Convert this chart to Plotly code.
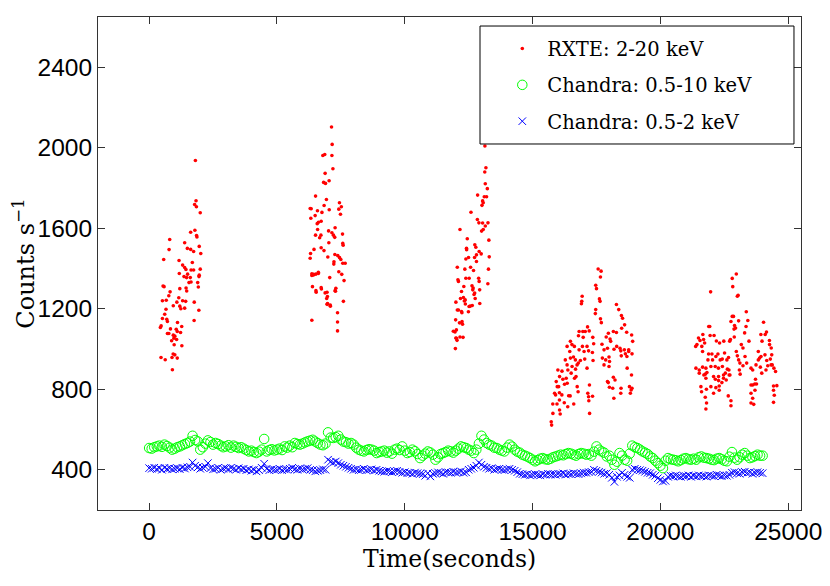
import plotly.graph_objects as go

# ---------------- DATA ----------------
# RXTE 2-20 keV light curve (time in s, counts/s), five observing windows
rxte_seg1_t = [1810,1835,1780,1850,2000,1625,1790,1855,1870,805,780,1390,1495,1625,1740,1960,2020,570,1170,1310,
               1690,1390,1440,1640,1740,2000,1180,1505,1960,1365,1465,1610,1950,1560,1900,545,585,1200,1445,1640,
               1925,1470,820,770,1160,1310,520,670,1430,1085,1765,945,1200,1240,1390,1945,660,610,520,690,
               715,1760,1110,470,440,1275,835,1060,1100,1230,715,770,945,1005,970,1075,880,980,1280,940,
               1005,895,465,630,1100,910]
rxte_seg1_c = [1937,1737,1718,1707,1677,1580,1590,1564,1557,1544,1494,1528,1500,1495,1485,1510,1475,1445,1440,1417,
               1430,1405,1395,1393,1393,1397,1375,1372,1367,1360,1355,1355,1360,1330,1330,1313,1310,1300,1303,1333,
               1308,1288,1284,1265,1255,1240,1240,1242,1237,1233,1233,1215,1213,1200,1203,1193,1198,1173,1152,1148,
               1137,1142,1132,1115,1107,1112,1100,1098,1087,1082,1077,1077,1069,1064,1054,1047,1041,1021,1016,975,
               971,958,958,947,955,897]

rxte_seg2_t = [7135,7160,6795,6870,7150,7190,6885,7040,6825,6900,6510,6935,7445,7520,6300,6845,7420,6585,7045,7485,
               6760,6325,6495,6625,6730,6575,7275,7020,6590,7150,6510,6720,7210,7565,6670,7260,7575,7030,6730,7590,
               6450,6840,6315,7265,7380,6990,6300,7450,7500,7230,7670,7575,7225,7420,6365,6430,6620,7535,7065,7625,
               6390,6730,7305,6525,7275,6885,6975,6365,6535,6980,7085,7370,7370,7370,7600,6340,6365,6430,6520,6620,
               6740,6960,6945,6960,7090,7290]
rxte_seg2_c = [2103,2017,1962,1967,1962,1896,1873,1836,1828,1823,1760,1743,1727,1707,1698,1713,1695,1687,1692,1670,
               1679,1650,1663,1630,1635,1623,1603,1587,1594,1578,1566,1566,1566,1571,1553,1555,1525,1528,1503,1516,
               1495,1489,1475,1470,1464,1457,1451,1454,1445,1434,1426,1426,1422,1384,1374,1371,1381,1371,1355,1340,
               1310,1305,1302,1290,1290,1279,1261,1143,1282,1226,1218,1180,1134,1090,1237,1697,1365,1368,1372,1375,
               1298,1282,1251,1222,1213,1287]

rxte_seg3_t = [13135,13175,13130,13150,13230,13110,13200,12850,13045,13020,13070,12590,12840,12900,13045,13150,13255,13070,13005,12160,
               12445,13290,12740,12415,12780,12420,12910,12805,12990,12730,12390,12495,13305,12805,12055,12575,12350,13275,12690,12080,
               12100,12390,12520,12890,12910,13250,12310,12630,12675,12660,12220,12930,12735,12710,12295,12180,12755,12365,12330,12000,
               12370,12935,12515,12560,12640,12055,12100,12220,12235,12490,11990,12240,12260,12020,11965,12280,12020,12045,11980,11900,
               12140,12000,12160]
rxte_seg3_c = [2009,1901,1880,1821,1797,1757,1757,1765,1736,1714,1727,1680,1644,1627,1626,1611,1627,1594,1586,1594,
               1548,1541,1518,1501,1506,1493,1485,1468,1473,1455,1447,1455,1458,1435,1406,1406,1397,1397,1390,1344,
               1336,1352,1352,1352,1336,1324,1311,1314,1303,1294,1286,1294,1278,1271,1256,1251,1251,1244,1239,1233,
               1224,1226,1211,1213,1216,1194,1194,1186,1180,1185,1145,1136,1123,1095,1085,1058,1053,1043,1002,1088,
               1130,1055,1060]

rxte_seg4_t = [17565,17680,17655,17470,17500,16940,16925,16910,17615,17640,17470,17455,18280,18370,18475,18520,17655,17690,17150,17215,
               17060,16965,16820,16795,16980,17355,17965,18160,18280,18485,18680,18875,16480,16540,16350,16635,16950,17130,17390,17715,
               18055,18030,18185,18290,18420,18450,18590,18760,18915,16455,16820,17015,17190,17340,17795,17930,18470,18630,18690,18760,
               18890,17730,17860,17990,18010,16280,16480,16675,16870,17040,17365,16350,16545,16740,16790,17130,17795,17990,18700,18870,
               15990,16380,16510,16680,16055,16185,16315,16640,16700,18160,17930,17960,18225,15925,15965,16020,16250,16355,16745,17225,
               18005,18135,18460,18790,18855,18890,18450,18825,15860,15900,16050,16145,16410,16470,17160,16050,15790,15955,16240,16375,
               16610,16780,17190,17200,18180,16055,15795,16080,17230,15730,15745,17345,16600,16150,17880,18600]
rxte_seg4_c = [1398,1387,1358,1317,1300,1262,1237,1225,1249,1237,1196,1176,1221,1196,1166,1153,1150,1131,1110,1090,
               1087,1087,1087,1066,1058,1058,1078,1087,1082,1103,1083,1070,1038,1022,1013,1013,1013,1013,1026,1024,
               1038,1050,999,1013,1004,991,996,996,1038,988,996,988,991,983,996,1004,966,976,963,988,
               976,955,946,960,938,946,955,946,943,950,943,921,913,921,930,905,921,913,905,871,
               896,896,880,900,863,850,855,855,863,860,838,833,846,838,813,813,825,830,813,821,
               810,805,805,813,796,805,780,780,780,772,783,772,768,767,780,747,727,727,733,713,
               727,788,763,743,755,697,680,677,680,638,622,765,960,890,1060,1120]

rxte_seg5_t = [22970,22810,22830,21965,23040,23010,22810,22860,23360,22760,23060,23420,24035,21890,21930,22900,23350,22940,22880,21660,
               22100,21945,21490,21550,21690,22190,22480,22710,22890,23295,23930,24100,24150,24265,21430,21380,21620,21730,22315,22740,
               23165,23230,23465,23975,24270,24335,21650,21885,22015,22250,22510,22600,22970,23010,23310,23830,23935,24090,24355,24300,
               21860,22040,22170,22340,22420,22665,23060,23110,23375,23830,23880,24160,24200,24375,21390,21520,21650,21780,21975,22145,
               22270,22425,22620,22680,23090,23230,23545,23740,23910,24330,24440,24505,21520,21700,21755,21820,22080,22275,22470,22540,
               22690,23120,23610,23965,24130,21780,22275,22470,22150,22405,22575,22720,23610,23690,23760,23545,23720,21585,21975,22170,
               22300,24425,24555,21610,21800,22300,22655,23700,24425,22080,23545,23610,24455,21755,22760,21805,23545,23650,24425,22760,
               21780]
rxte_seg5_c = [1373,1351,1310,1284,1267,1262,1162,1162,1185,1137,1140,1142,1133,1112,1112,1117,1112,1104,1099,1072,
               1067,1067,1055,1042,1047,1040,1039,1039,1060,1080,1072,1072,1084,1042,1022,1013,1013,1030,1030,1047,
               1022,1005,1039,1039,1022,1005,988,975,975,975,980,946,988,966,963,988,963,971,971,950,
               946,946,963,946,950,958,946,930,930,946,955,943,917,921,905,896,910,905,913,913,
               905,913,900,896,896,917,905,921,910,921,905,888,880,871,875,883,863,863,871,880,
               871,875,896,880,896,855,843,855,850,833,846,871,821,826,826,821,850,813,813,808,
               816,816,818,788,800,795,767,795,795,780,780,755,770,760,743,732,732,725,735,718,
               702]

rxte_time = rxte_seg1_t + rxte_seg2_t + rxte_seg3_t + rxte_seg4_t + rxte_seg5_t
rxte_counts = rxte_seg1_c + rxte_seg2_c + rxte_seg3_c + rxte_seg4_c + rxte_seg5_c

# Chandra light curves, 100 s bins from 0 to 24000 s
chandra_time = list(range(0, 24001, 100))
chandra_broad = [
    508, 505, 512, 516, 520, 514, 525, 518, 510, 500,
    505, 512, 516, 522, 528, 533, 540, 569, 548, 541,
    500, 512, 530, 546, 538, 525, 533, 528, 520, 512,
    516, 522, 510, 520, 514, 508, 512, 505, 498, 491,
    495, 488, 483, 490, 500, 553, 491, 498, 502, 496,
    500, 505, 498, 516, 510, 520, 512, 533, 528, 525,
    530, 536, 541, 545, 549, 540, 532, 525, 522, 530,
    586, 560, 558, 562, 569, 550, 540, 537, 530, 533,
    525, 510, 500, 495, 491, 498, 502, 500, 495, 483,
    488, 491, 495, 485, 491, 480, 500, 505, 498, 516,
    495, 483, 488, 500, 492, 478, 458, 470, 480, 491,
    486, 475, 450, 462, 478, 483, 488, 495, 491, 485,
    495, 505, 516, 512, 508, 500, 495, 483, 500, 530,
    569, 550, 533, 525, 520, 510, 508, 500, 495, 491,
    510, 525, 515, 500, 490, 485, 475, 470, 465, 458,
    450, 442, 448, 455, 458, 452, 450, 455, 462, 466,
    470, 475, 472, 478, 483, 480, 475, 470, 478, 483,
    480, 475, 478, 470, 490, 516, 500, 491, 485, 466,
    470, 450, 425, 440, 483, 470, 450, 445, 480, 520,
    512, 508, 500, 491, 485, 478, 466, 458, 445, 433,
    420, 408, 445, 458, 452, 450, 447, 442, 448, 455,
    458, 452, 450, 455, 450, 462, 466, 460, 458, 455,
    450, 448, 455, 458, 452, 445, 442, 465, 488, 460,
    450, 462, 475, 483, 470, 458, 462, 468, 475, 470,
    470]
chandra_soft = [
    408, 405, 410, 403, 408, 400, 410, 404, 408, 402,
    405, 408, 403, 410, 406, 412, 415, 436, 420, 412,
    405, 410, 415, 433, 408, 402, 405, 410, 400, 405,
    408, 403, 410, 405, 400, 408, 402, 405, 398, 402,
    395, 400, 392, 398, 410, 430, 405, 398, 402, 400,
    400, 405, 398, 402, 400, 405, 410, 403, 400, 405,
    402, 405, 408, 400, 398, 392, 395, 398, 402, 400,
    450, 440, 436, 441, 433, 425, 420, 415, 410, 405,
    400, 402, 398, 400, 405, 398, 400, 402, 396, 400,
    395, 392, 390, 394, 392, 388, 392, 395, 390, 385,
    388, 383, 385, 380, 386, 383, 380, 378, 370, 383,
    367, 380, 383, 387, 385, 380, 388, 387, 385, 390,
    386, 388, 392, 385, 387, 400, 405, 410, 420, 436,
    425, 415, 410, 405, 408, 400, 403, 405, 400, 398,
    402, 405, 400, 395, 388, 380, 378, 375, 378, 372,
    375, 378, 375, 372, 378, 375, 380, 376, 378, 375,
    380, 378, 382, 376, 380, 378, 383, 380, 378, 382,
    386, 385, 388, 390, 400, 395, 390, 386, 380, 383,
    375, 360, 340, 365, 372, 385, 375, 365, 360, 400,
    405, 400, 398, 395, 390, 385, 383, 375, 370, 358,
    350, 342, 345, 365, 370, 368, 372, 367, 365, 370,
    368, 372, 365, 370, 367, 372, 368, 370, 366, 372,
    370, 368, 375, 372, 368, 372, 370, 375, 385, 388,
    383, 380, 388, 390, 385, 387, 380, 385, 388, 385,
    383]

x_ticks = [0, 5000, 10000, 15000, 20000, 25000]
y_ticks = [400, 800, 1200, 1600, 2000, 2400]

SERIF = "DejaVu Serif, Liberation Serif, serif"
SANS = "Liberation Sans, Arial, sans-serif"

# ---------------- FIGURE ----------------
fig = go.Figure()
fig.add_trace(go.Scatter(
    x=rxte_time, y=rxte_counts, mode="markers", name="RXTE: 2-20 keV",
    legendgroup="a",
    marker=dict(symbol="circle", size=3.6, color="#ff0000", line=dict(width=0)),
))
fig.add_trace(go.Scatter(
    x=chandra_time, y=chandra_broad, mode="markers", name="Chandra: 0.5-10 keV",
    legendgroup="b",
    marker=dict(symbol="circle-open", size=9.5, color="#00ff00", line=dict(width=1, color="#00ff00")),
))
fig.add_trace(go.Scatter(
    x=chandra_time, y=chandra_soft, mode="markers", name="Chandra: 0.5-2 keV",
    legendgroup="c",
    marker=dict(symbol="x-thin-open", size=7.5, color="#0000ff", line=dict(width=1, color="#0000ff")),
))

axis_common = dict(
    showline=True, linecolor="#333333", linewidth=1, mirror="ticks",
    ticks="inside", ticklen=7, tickcolor="#333333", tickwidth=1,
    showgrid=False, zeroline=False,
    tickfont=dict(family=SANS, size=24.5, color="black"),
)

fig.update_xaxes(
    range=[-2000, 25500], tickvals=x_ticks, ticktext=[str(v) for v in x_ticks],
    title=dict(text="Time(seconds)", font=dict(family=SERIF, size=23.5, color="black"), standoff=1),
    **axis_common,
)
fig.update_yaxes(
    range=[200, 2650], tickvals=y_ticks, ticktext=[str(v) for v in y_ticks],
    title=dict(text="Counts s<sup>\u22121</sup>", font=dict(family=SERIF, size=24, color="black"), standoff=4),
    **axis_common,
)

# legend frame (drawn as a paper-space box behind the transparent legend)
fig.add_shape(
    type="rect", xref="paper", yref="paper",
    x0=0.5434, x1=0.990, y0=0.7424, y1=0.9817,
    fillcolor="white", line=dict(color="black", width=1), layer="above",
)

fig.update_layout(
    width=822, height=578,
    margin=dict(l=90, r=29, t=9, b=76),
    paper_bgcolor="white", plot_bgcolor="white",
    showlegend=True,
    legend=dict(
        x=0.568, y=0.975, xanchor="left", yanchor="top",
        bgcolor="rgba(0,0,0,0)", borderwidth=0,
        font=dict(family=SERIF, size=19.5, color="black"),
        tracegroupgap=8, itemsizing="trace", itemwidth=40,
    ),
)

fig.write_html("out.html")
